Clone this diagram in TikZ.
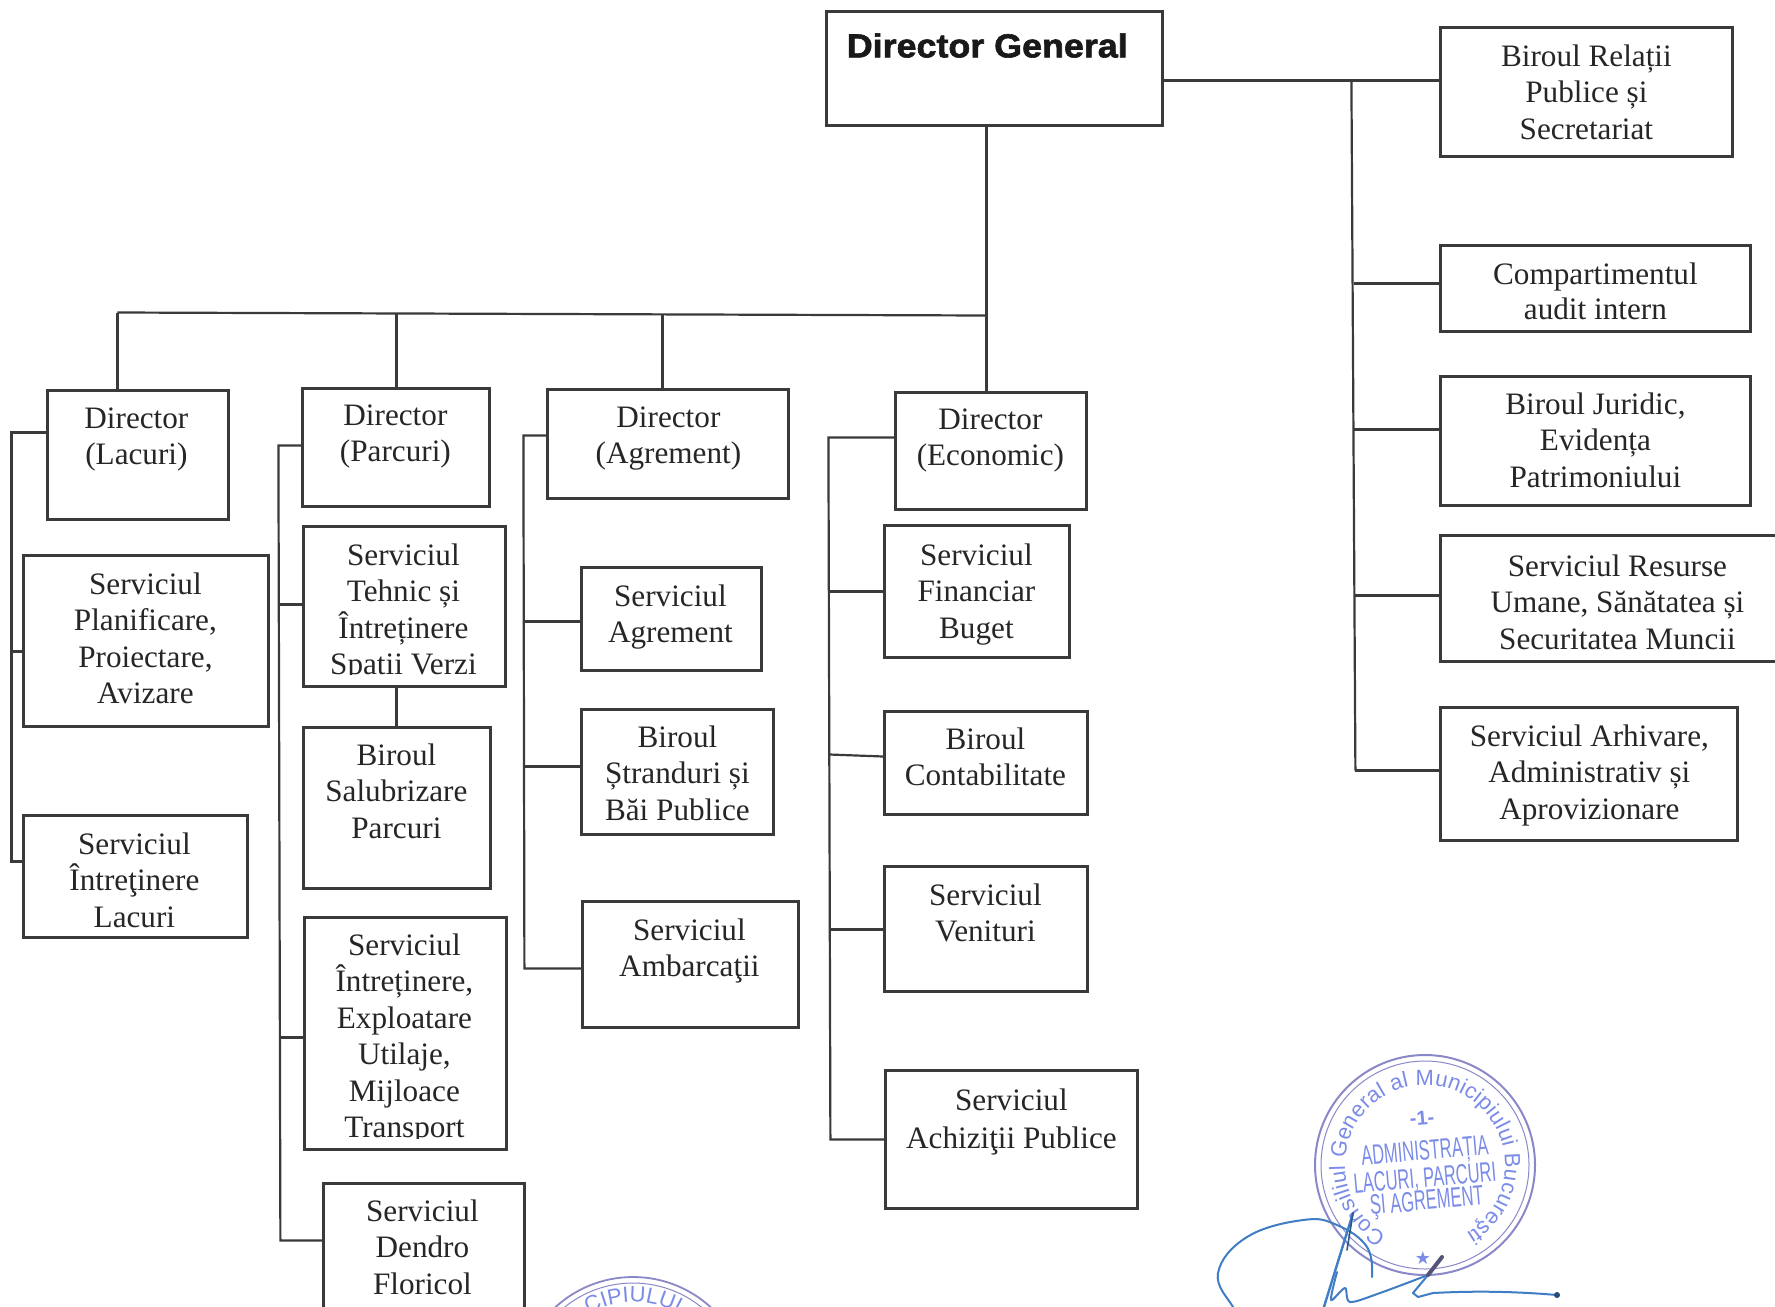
\documentclass[tikz,border=0pt]{standalone}
\usepackage{fontspec}
\usetikzlibrary{fit,decorations.text,calc}
\setmainfont{Liberation Serif}
\newfontfamily\headfont[FakeBold=1.8,FakeStretch=1.08]{Liberation Sans Bold}
\newfontfamily\stampring{Liberation Sans}
\newfontfamily\stampnarrow[FakeStretch=0.59]{Liberation Sans}
\newfontfamily\starfont{DejaVu Sans}
\definecolor{ink}{HTML}{3A3A3A}
\definecolor{stampblue}{HTML}{7B8CE8}
\definecolor{stampring}{HTML}{8A88C8}
\definecolor{signblue}{HTML}{3F7DC4}
\tikzset{
  boxn/.style={draw=ink,line width=1.1pt,inner sep=0pt,fill=none},
  txt/.style={inner sep=0pt,anchor=north,align=center,text=black!85,yshift=-0.4pt,font=\fontsize{15.6}{18.25}\selectfont},
  txtb/.style={txt,font=\fontsize{15.6}{16}\selectfont},
  link/.style={draw=ink,line width=1.1pt},
  ringt/.style={decorate,decoration={text along path,text align=center,text color=stampblue}},
}
\newcommand{\bx}[5]{\node[boxn,fit={(#2,#3)(#4,#5)}] (#1) {};}
\newcommand{\tx}[4]{\node[txt] (#1t) at (#2,#3) {#4};}
\newcommand{\txb}[4]{\node[txtb] (#1t) at (#2,#3) {#4};}
\begin{document}
\begin{tikzpicture}[x=0.5pt,y=-0.5pt]
\useasboundingbox (0,0) rectangle (1775,1306);
\clip (0,0) rectangle (1775,1306);
\fill[white] (0,0) rectangle (1775,1306);
\begin{scope}[shift={(0.4,0.5)}]
% Boxes
\bx{dg}{826}{11}{1162}{125}
\bx{rel}{1440}{27}{1732}{156}
\bx{aud}{1440}{245}{1750}{331}
\bx{jur}{1440}{376}{1750}{505}
\bx{res}{1440}{535}{1790}{661}
\bx{arh}{1440}{707}{1737}{840}
\bx{lac}{47}{390}{228}{519}
\bx{pla}{23}{555}{268}{726}
\bx{inl}{23}{815}{247}{937}
\bx{par}{302}{388}{489}{506}
\bx{teh}{303}{526}{505}{686}
\bx{sal}{303}{727}{490}{888}
\bx{exp}{304}{917}{506}{1149}
\bx{den}{323}{1183}{524}{1330}
\bx{agr}{547}{389}{788}{498}
\bx{sag}{581}{567}{761}{670}
\bx{str}{581}{709}{773}{834}
\bx{amb}{582}{901}{798}{1027}
\bx{eco}{895}{392}{1086}{509}
\bx{fin}{884}{525}{1069}{657}
\bx{con}{884}{711}{1087}{814}
\bx{ven}{884}{866}{1087}{991}
\bx{ach}{885}{1070}{1137}{1208}
% Texts
\node[inner sep=0pt,anchor=west,font=\headfont\fontsize{16.6}{18}\selectfont,text=black!90] (dgt) at (846,45) {Director General};
\tx{rel}{1586}{43}{Biroul Relații\\Publice și\\Secretariat}
\txb{aud}{1595}{261}{Compartimentul\\[1.5pt]audit intern}
\tx{jur}{1595}{391}{Biroul Juridic,\\Evidența\\Patrimoniului}
\tx{res}{1617}{553}{Serviciul Resurse\\Umane, Sănătatea și\\Securitatea Muncii}
\tx{arh}{1589}{723}{Serviciul Arhivare,\\Administrativ și\\Aprovizionare}
\tx{lac}{136}{406}{Director\\(Lacuri)}
\tx{pla}{145}{571}{Serviciul\\Planificare,\\Proiectare,\\Avizare}
\tx{inl}{134}{831}{Serviciul\\Întreţinere\\Lacuri}
\tx{par}{395}{403}{Director\\(Parcuri)}
\begin{scope}
\clip (303,526) rectangle (505,674);
\tx{teh}{403}{542}{Serviciul\\Tehnic și\\Întreținere\\Spatii Verzi}
\end{scope}
\tx{sal}{396}{742}{Biroul\\Salubrizare\\Parcuri}
\begin{scope}
\clip (304,917) rectangle (506,1138);
\tx{exp}{404}{932}{Serviciul\\Întreținere,\\Exploatare\\Utilaje,\\Mijloace\\Transport}
\end{scope}
\tx{den}{422}{1198}{Serviciul\\Dendro\\Floricol}
\tx{agr}{668}{405}{Director\\(Agrement)}
\tx{sag}{670}{583}{Serviciul\\Agrement}
\tx{str}{677}{724}{Biroul\\Ștranduri și\\Băi Publice}
\tx{amb}{689}{917}{Serviciul\\Ambarcaţii}
\tx{eco}{990}{407}{Director\\(Economic)}
\tx{fin}{976}{542}{Serviciul\\Financiar\\Buget}
\tx{con}{985}{726}{Biroul\\Contabilitate}
\tx{ven}{985}{882}{Serviciul\\Venituri}
\tx{ach}{1011}{1087}{Serviciul\\[0.6pt]Achiziţii Publice}
% Main trunk
\coordinate (jtop) at (986,315);
\draw[link] (dg.south -| jtop) -- (jtop);
\coordinate (hL) at (117,312);
\draw[link] (hL) -- (jtop);
\coordinate (h2) at (396,313);
\coordinate (h3) at (662,314);
\draw[link] (hL) -- (hL |- lac.north);
\draw[link] (h2) -- (h2 |- par.north);
\draw[link] (h3) -- (h3 |- agr.north);
\draw[link] (jtop) -- (jtop |- eco.north);
% Right staff bus
\coordinate (rb0) at (1351,80);
\coordinate (rb1) at (1355,770);
\draw[link] (dg.east |- rb0) -- (rel.west |- rb0);
\draw[link] (rb0) -- (rb1);
\coordinate (rba) at (1354,283);
\coordinate (rbb) at (1354,429);
\coordinate (rbc) at (1355,595);
\draw[link] (rba) -- (aud.west |- rba);
\draw[link] (rbb) -- (jur.west |- rbb);
\draw[link] (rbc) -- (res.west |- rbc);
\draw[link] (rb1) -- (arh.west |- rb1);
% Lacuri bus
\coordinate (lb0) at (11,432);
\coordinate (lb1) at (11,861);
\coordinate (lba) at (11,651);
\draw[link] (lac.west |- lb0) -- (lb0) -- (lb1) -- (inl.west |- lb1);
\draw[link] (lba) -- (pla.west |- lba);
% Parcuri bus
\coordinate (pb0) at (278,445);
\coordinate (pb1) at (280,1240);
\coordinate (pba) at (279,604);
\coordinate (pbb) at (279,1037);
\draw[link] (par.west |- pb0) -- (pb0) -- (pb1) -- (den.west |- pb1);
\draw[link] (pba) -- (teh.west |- pba);
\draw[link] (pbb) -- (exp.west |- pbb);
\draw[link] (teh.south -| h2) -- (sal.north -| h2);
% Agrement bus
\coordinate (ab0) at (523,435);
\coordinate (ab1) at (524,968);
\coordinate (aba) at (523,621);
\coordinate (abb) at (524,766);
\draw[link] (agr.west |- ab0) -- (ab0) -- (ab1) -- (amb.west |- ab1);
\draw[link] (aba) -- (sag.west |- aba);
\draw[link] (abb) -- (str.west |- abb);
% Economic bus
\coordinate (eb0) at (828,437);
\coordinate (eb1) at (830,1139);
\coordinate (eba) at (829,591);
\coordinate (ebb) at (829,754);
\coordinate (ebc) at (829,929);
\draw[link] (eco.west |- eb0) -- (eb0) -- (eb1) -- (ach.west |- eb1);
\draw[link] (eba) -- (fin.west |- eba);
\draw[link] (ebb) -- ($(con.west |- ebb)+(0,2)$);
\draw[link] (ebc) -- (ven.west |- ebc);
\end{scope}
% Stamp bottom centre
\begin{scope}[shift={(633,1392)},x=0.5pt,y=0.5pt]
\draw[stampring,line width=0.9pt] (0,0) circle (115);
\draw[stampring,line width=0.5pt] (0,0) circle (109);
\path[ringt,decoration={text={|\stampring\fontsize{11}{13}\selectfont|CIPIULUI}}] (125:90) arc[start angle=125,end angle=55,radius=90];
\end{scope}
% Stamp right
\begin{scope}[shift={(1425,1165)},x=0.5pt,y=0.5pt]
\draw[stampring,line width=1pt] (0,0) circle (110);
\draw[stampring,line width=0.5pt] (0,0) circle (104);
\path[ringt,decoration={text align={fit to path},text={|\stampring\fontsize{11}{13}\selectfont|Consiliul General al Municipiului Bucureşti}}] (241:80) arc[start angle=241,end angle=-59,radius=80];
\node[text=stampblue,font=\stampring\bfseries\fontsize{10}{13}\selectfont,rotate=5] (st0) at (-3,47) {-1-};
\node[text=stampblue,font=\stampnarrow\fontsize{14}{16}\selectfont,rotate=5,inner sep=0pt] (st1) at (0,12) {ADMINISTRAȚIA};
\node[text=stampblue,font=\stampnarrow\fontsize{14}{16}\selectfont,rotate=5,inner sep=0pt] (st2) at (0,-14) {LACURI, PARCURI};
\node[text=stampblue,font=\stampnarrow\fontsize{14}{16}\selectfont,rotate=5,inner sep=0pt] (st3) at (2,-38) {ŞI AGREMENT};
\node[text=stampblue,font=\starfont\fontsize{9}{10}\selectfont,inner sep=0pt] (st4) at (-2,-93) {★};
\end{scope}
% Signature
\draw[signblue,line width=1pt,line cap=round] plot[smooth,tension=0.7] coordinates {(1372,1277)(1367,1247)(1337,1225)(1303,1220)(1247,1237)(1218,1273)(1233,1307)(1240,1315)};
\draw[signblue,line width=1.2pt,line cap=round] (1353,1213) -- (1323,1310);
\draw[signblue!70!black,line width=0.8pt,line cap=round] (1353,1213) -- (1347,1250);
\draw[signblue,line width=1pt,line cap=round,line join=round] plot[smooth,tension=0.5] coordinates {(1337,1272)(1331,1300)(1345,1288)(1350,1302)(1380,1293)(1428,1275)};
\draw[signblue,line width=1pt,line cap=round,line join=round] (1442,1257) -- (1428,1275) -- (1413,1293) -- (1418,1297) -- (1433,1293) .. controls (1470,1291) and (1510,1291) .. (1557,1295);
\draw[stampring!60!black,line width=2pt,line cap=round] (1442,1257) -- (1428,1275);
\fill[signblue!60!black] (1557,1295) circle (3);
\end{tikzpicture}
\end{document}
